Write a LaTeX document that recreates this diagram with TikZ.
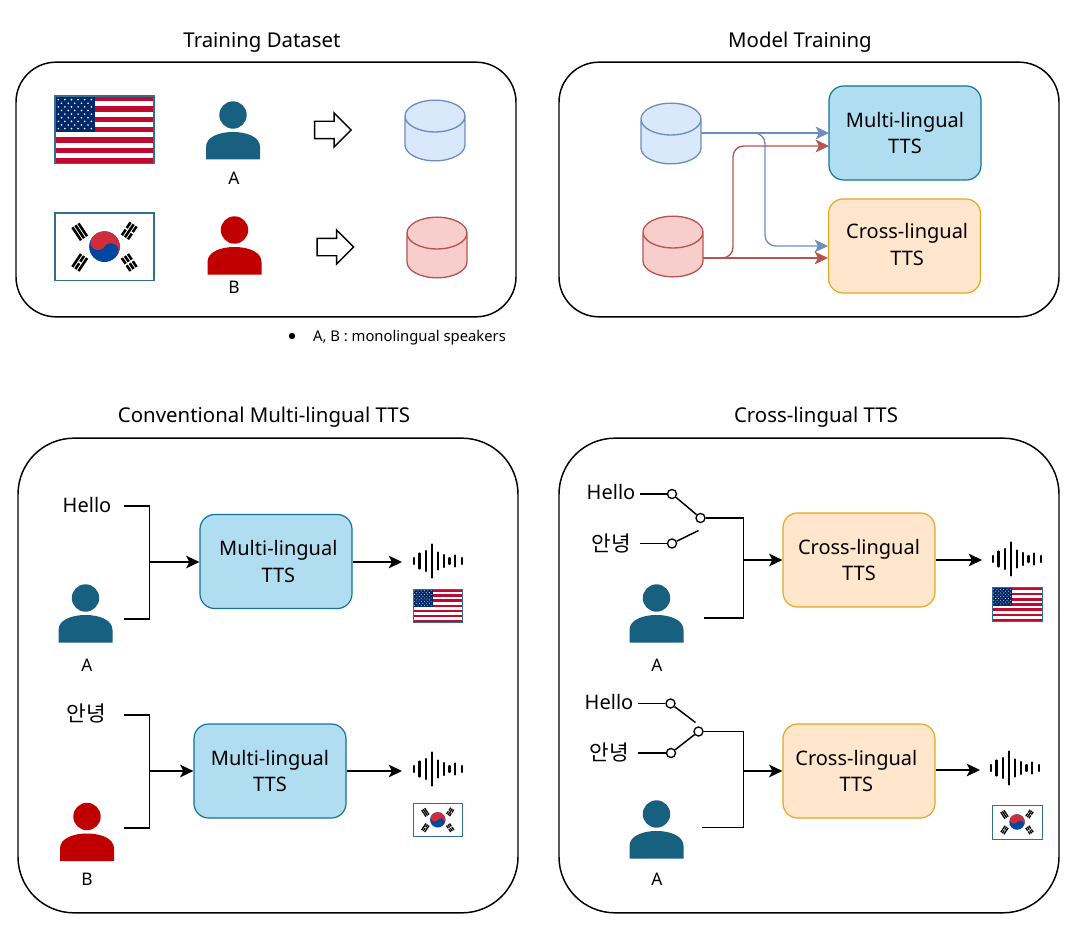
\documentclass[tikz,border=0pt]{standalone}
\usepackage{fontspec}
\setmainfont{Noto Sans}
\newfontfamily\cjk{Noto Sans CJK KR}
\usepackage{xcolor}
\usetikzlibrary{shapes.geometric,shapes.arrows,arrows.meta,positioning}
\definecolor{azulp}{HTML}{17607F}
\definecolor{rojop}{HTML}{C00000}
\definecolor{bordeb}{HTML}{2F6F8F}
\definecolor{usred}{HTML}{BF0A30}
\definecolor{usblue}{HTML}{002868}
\definecolor{krred}{HTML}{CD2E3A}
\definecolor{krblue}{HTML}{0047A0}
\definecolor{cylblue}{HTML}{6C8EBF}
\definecolor{cylbluef}{HTML}{DAE8FC}
\definecolor{cylred}{HTML}{B85450}
\definecolor{cylredf}{HTML}{F8CECC}
\definecolor{ttsazulf}{HTML}{B1DDF0}
\definecolor{ttsazul}{HTML}{10739E}
\definecolor{ttsnarf}{HTML}{FFE6CC}
\definecolor{ttsnar}{HTML}{E3A81C}
\tikzset{
  panel/.style={rectangle, draw=black, line width=1.1pt, minimum width=375pt, minimum height=#1},
  tts/.style={rectangle, draw=#1, line width=0.9pt, minimum width=114pt, minimum height=70.5pt,
              align=center, font=\fontsize{15}{20}\selectfont, rounded corners=11pt, inner sep=0pt},
  multi/.style={tts=ttsazul, fill=ttsazulf},
  cruce/.style={tts=ttsnar, fill=ttsnarf},
  titulo/.style={font=\fontsize{15.3}{18}\selectfont, inner sep=0pt},
  texto/.style={font=\fontsize{15}{18}\selectfont, inner sep=0pt},
  etiq/.style={font=\fontsize{13}{14}\selectfont, inner sep=0pt},
  datos/.style={cylinder, shape border rotate=90, aspect=0.53, minimum width=45pt, minimum height=45.5pt,
                line width=1pt, inner xsep=22.5pt, inner ysep=0pt, anchor=shape center},
  datosa/.style={datos, draw=cylblue, fill=cylbluef},
  datosr/.style={datos, draw=cylred, fill=cylredf},
  hueca/.style={single arrow, draw=black, line width=1.1pt, minimum height=27.5pt,
                single arrow head extend=6.25pt, inner xsep=0pt, inner ysep=6pt},
  flecha/.style={-{Stealth[length=10pt,width=9.5pt,inset=2.5pt]}, line width=1.1pt, black},
  linea/.style={line width=1.1pt, black},
  flechaa/.style={-{Stealth[length=10pt,width=9.5pt,inset=2.5pt]}, line width=1pt, cylblue, rounded corners=8pt},
  flechar/.style={-{Stealth[length=10pt,width=9.5pt,inset=2.5pt]}, line width=1pt, cylred, rounded corners=8pt},
  borne/.style={circle, draw=black, fill=white, line width=1pt, minimum size=6.8pt, inner sep=0pt},
  pics/persona/.style={code={
    \fill[#1] (0,14) circle (13.7);
    \fill[#1] (-27,58.5) -- (-27,46) .. controls (-27,36) and (-14,31) .. (0,31)
      .. controls (14,31) and (27,36) .. (27,46) -- (27,58.5) -- cycle;
  }},
  pics/onda/.style={code={
    \foreach \xb/\hb in {0/8,5.3/17,12/22,17.7/35,23.7/19,29.7/14,35.3/8,41/13,47.7/8}
      \draw[line width=1.8pt, line cap=round, black] (\xb,-\hb/2+1) -- (\xb,\hb/2-1);
  }},
  pics/bandera us/.style={code={
    \fill[white] (0,0) rectangle (100,68);
    \foreach \k in {0,2,...,12}
      \fill[usred] (0,\k*68/13) rectangle (100,\k*68/13+68/13);
    \fill[usblue] (0,0) rectangle (40,36.6);
    \foreach \fila in {1,3,5,7,9} \foreach \col in {1,3,...,11}
      \fill[white] (\col*40/12,\fila*36.6/10) circle (0.9);
    \foreach \fila in {2,4,6,8} \foreach \col in {2,4,...,10}
      \fill[white] (\col*40/12,\fila*36.6/10) circle (0.9);
    \draw[bordeb, line width=#1] (0,0) rectangle (100,68);
  }},
  pics/bandera kr/.style={code={
    \fill[white] (0,0) rectangle (100,68);
    \fill[krblue] (50,34) circle (15.5);
    \fill[krred] (50,34) ++(213.7:15.5) arc[start angle=213.7, end angle=393.7, radius=15.5]
      arc[start angle=33.7, end angle=-146.3, radius=7.75]
      arc[start angle=33.7, end angle=213.7, radius=7.75] -- cycle;
    \foreach \cx/\cy/\ang/\ua/\ub/\uc in {25/19/33.7/0/0/0,75/18/146.3/1/0/1,25/50/-33.7/0/1/0,75/50/213.7/1/1/1}
      \begin{scope}[shift={(\cx,\cy)},rotate=\ang]
        \foreach \xb/\u in {-3.7/\ua,0/\ub,3.7/\uc}{
          \fill[black] (\xb-1.3,-7.85) rectangle (\xb+1.3,7.85);
          \ifnum\u=1 \fill[white] (\xb-1.7,-0.8) rectangle (\xb+1.7,0.8); \fi
        }
      \end{scope}
    \draw[bordeb, line width=#1] (0,0) rectangle (100,68);
  }}
}
\begin{document}
\begin{tikzpicture}[x=0.75pt, y=-0.75pt]
  \useasboundingbox (0,0) rectangle (1076,931);
  \node[panel=191pt, rounded corners=30pt] (pdatos) at (266,189.5) {};
  \node[panel=191pt, rounded corners=30pt] (pmodelo) at (809,189.5) {};
  \node[panel=356pt, rounded corners=42pt] (pconv) at (268,675.5) {};
  \node[panel=356pt, rounded corners=42pt] (pcruce) at (809,675.5) {};
  \node[titulo] (tdatos) at (262,42.5) {Training Dataset};
  \node[titulo] (tmodelo) at (800,42) {Model Training};
  \node[titulo] (tconv) at (264,417.5) {Conventional Multi-lingual TTS};
  \node[titulo] (tcruce) at (816,417.5) {Cross-lingual TTS};

  % training dataset
  \pic[scale=0.99] at (55,96) {bandera us=1pt};
  \pic[scale=0.99] at (55,213) {bandera kr=1pt};
  \pic at (233,101) {persona=azulp};
  \pic at (234.5,216) {persona=rojop};
  \node[etiq] (la1) at (234,178) {A};
  \node[etiq] (lb1) at (234,287) {B};
  \node[hueca] (ha) at (328.5,130) {};
  \node[hueca] (hb) at (331,247) {};
  \node[datosa] (da1) at (435,130.5) {};
  \node[datosr] (dr1) at (437,247.5) {};
  \fill[black] (292,336) circle (3.2);
  \node[font=\fontsize{11.1}{12}\selectfont, inner sep=0pt] (nota) at (409.5,337.5) {A, B : monolingual speakers};

  % model training
  \node[datosa] (da2) at (671,133.5) {};
  \node[datosr] (dr2) at (673,246.5) {};
  \node[multi] (mt) at (905,133) {Multi-lingual\\TTS};
  \node[cruce] (ct) at (904.5,246) {\hspace*{4pt}Cross-lingual\\\hspace*{4pt}TTS\rule[-2pt]{0pt}{0pt}};
  \coordinate (sa) at (701,133);
  \coordinate (sr) at (703,258);
  \draw[flechaa] (sa) -- (829,133);
  \draw[flechaa] (sa) -- (765,133) -- (765,246) -- (828,246);
  \draw[flechar] (sr) -- (828,258);
  \draw[flechar] (sr) -- (733,258) -- (733,146) -- (829,146);

  % conventional
  \node[texto] (h1) at (87,505) {Hello};
  \node[texto] (k1) at (86,713) {\fontsize{16}{18}\selectfont\cjk 안녕};
  \pic at (85.5,584) {persona=azulp};
  \pic at (87,802.5) {persona=rojop};
  \node[etiq] (la2) at (87,665) {A};
  \node[etiq] (lb2) at (87,879) {B};
  \node[multi] (m1) at (276,561.5) {\hspace*{3.5pt}Multi-lingual\\\hspace*{3.5pt}TTS};
  \node[multi] (m2) at (270,771) {Multi-lingual\\TTS};
  \coordinate (h1s) at (124,506);
  \coordinate (a2s) at (124,619);
  \coordinate (j1) at (149.5,562);
  \coordinate (k1s) at (124,715);
  \coordinate (b2s) at (124,828);
  \coordinate (j2) at (149.5,771);
  \coordinate (o1) at (402,562);
  \coordinate (o2) at (402,771);
  \draw[linea] (h1s) -| (j1) |- (a2s);
  \draw[linea] (k1s) -| (j2) |- (b2s);
  \draw[flecha] (j1) -- (j1 -| m1.west);
  \draw[flecha] (j2) -- (j2 -| m2.west);
  \draw[flecha] (m1.east |- o1) -- (o1);
  \draw[flecha] (m2.east |- o2) -- (o2);
  \pic at (414,561) {onda};
  \pic at (414,769) {onda};
  \pic[scale=0.495] at (413,589) {bandera us=0.6pt};
  \pic[scale=0.495] at (413,803) {bandera kr=0.6pt};

  % cross-lingual
  \node[texto] (h3) at (611,492) {Hello};
  \node[texto] (k3) at (611,543) {\fontsize{16}{18}\selectfont\cjk 안녕};
  \node[borne] (s1a) at (672,494) {};
  \node[borne] (s1b) at (672,543.5) {};
  \node[borne] (s1c) at (700.5,518) {};
  \coordinate (h3s) at (640,494);
  \coordinate (k3s) at (640,543.5);
  \coordinate (s1d) at (698.5,530.5);
  \draw[linea] (h3s) -- (s1a);
  \draw[linea] (k3s) -- (s1b);
  \draw[linea] (s1a) -- (s1c);
  \draw[linea] (s1b) -- (s1d);
  \node[texto] (h4) at (609,702) {Hello};
  \node[texto] (k4) at (609,752) {\fontsize{16}{18}\selectfont\cjk 안녕};
  \node[borne] (s2a) at (670.5,703.5) {};
  \node[borne] (s2b) at (671,753) {};
  \node[borne] (s2c) at (698.5,731.5) {};
  \coordinate (h4s) at (638,703.5);
  \coordinate (k4s) at (638,753);
  \coordinate (s2d) at (695.5,722.5);
  \draw[linea] (h4s) -- (s2a);
  \draw[linea] (k4s) -- (s2b);
  \draw[linea] (s2b) -- (s2c);
  \draw[linea] (s2a) -- (s2d);
  \pic at (656.5,584) {persona=azulp};
  \pic at (656.5,800) {persona=azulp};
  \node[etiq] (la3) at (657,665) {A};
  \node[etiq] (la4) at (657,879) {A};
  \node[cruce] (c1) at (859,560) {Cross-lingual\\TTS};
  \node[cruce] (c2) at (859,771) {Cross-lingual\hspace*{4pt}\\TTS\hspace*{4pt}};
  \coordinate (a3s) at (704,618);
  \coordinate (a4s) at (702,827.5);
  \coordinate (j3) at (743.5,560);
  \coordinate (j4) at (743.5,771);
  \coordinate (o3) at (982,560);
  \coordinate (o4) at (980,770);
  \draw[linea] (s1c) -| (j3) |- (a3s);
  \draw[linea] (s2c) -| (j4) |- (a4s);
  \draw[flecha] (j3) -- (c1.west);
  \draw[flecha] (j4) -- (c2.west);
  \draw[flecha] (c1.east) -- (o3);
  \draw[flecha] (c2.east |- o4) -- (o4);
  \pic at (993,559) {onda};
  \pic at (991,768) {onda};
  \pic[scale=0.5] at (992,587.5) {bandera us=0.6pt};
  \pic[scale=0.5] at (992,805) {bandera kr=0.6pt};
\end{tikzpicture}
\end{document}
